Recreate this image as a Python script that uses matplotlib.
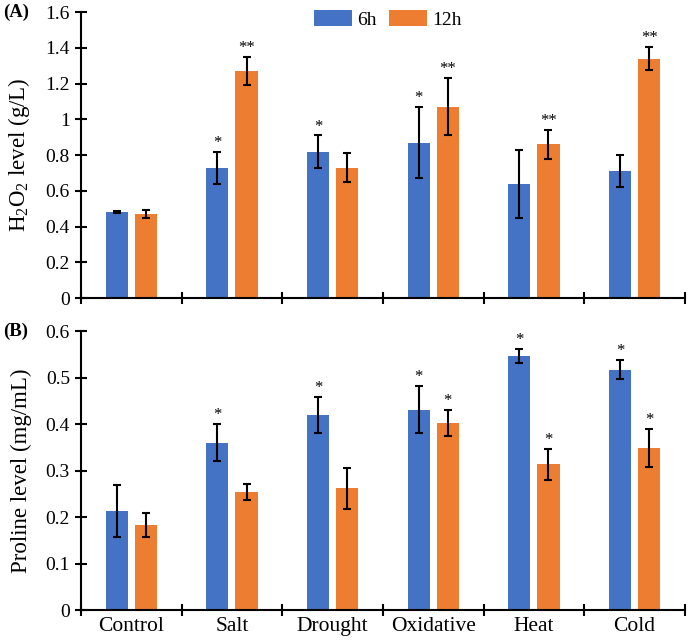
import numpy as np
import matplotlib
matplotlib.use("Agg")
import matplotlib.pyplot as plt
from matplotlib.ticker import FixedLocator

plt.rcParams['font.family'] = ['Liberation Serif', 'DejaVu Serif']
plt.rcParams['mathtext.fontset'] = 'custom'
plt.rcParams['mathtext.rm'] = 'Liberation Serif'
plt.rcParams['mathtext.it'] = 'Liberation Serif:italic'
plt.rcParams['mathtext.bf'] = 'Liberation Serif:bold'

categories = ["Control", "Salt", "Drought", "Oxidative", "Heat", "Cold"]
series = ["6h", "12h"]

h2o2_6h = [0.48, 0.73, 0.82, 0.87, 0.64, 0.71]
h2o2_6h_err = [0.005, 0.09, 0.09, 0.20, 0.19, 0.09]
h2o2_12h = [0.47, 1.27, 0.73, 1.07, 0.86, 1.34]
h2o2_12h_err = [0.02, 0.08, 0.08, 0.16, 0.08, 0.065]
h2o2_6h_sig = ["", "*", "*", "*", "", ""]
h2o2_12h_sig = ["", "**", "", "**", "**", "**"]

pro_6h = [0.212, 0.360, 0.419, 0.431, 0.546, 0.517]
pro_6h_err = [0.056, 0.040, 0.039, 0.050, 0.015, 0.021]
pro_12h = [0.183, 0.254, 0.262, 0.402, 0.313, 0.349]
pro_12h_err = [0.025, 0.018, 0.044, 0.028, 0.033, 0.041]
pro_6h_sig = ["", "*", "*", "*", "*", "*"]
pro_12h_sig = ["", "", "", "*", "*", "*"]

blue = "#4472C4"
orange = "#ED7D31"

fig = plt.figure(figsize=(6.96, 6.42), dpi=100)
ax1 = fig.add_axes([0.1164, 0.5358, 0.8676, 0.4452])
ax2 = fig.add_axes([0.1164, 0.0498, 0.8676, 0.4346])

x = np.arange(len(categories))
w = 0.22
off = 0.145


def draw(ax, v6, e6, s6, v12, e12, s12, ymax, step, star_pad):
    ekw = dict(elinewidth=1.5, capthick=1.5, ecolor='black')
    b1 = ax.bar(x - off, v6, w, color=blue, yerr=e6, capsize=2.6, error_kw=ekw, label=series[0])
    b2 = ax.bar(x + off, v12, w, color=orange, yerr=e12, capsize=2.6, error_kw=ekw, label=series[1])
    for xs, vals, errs, sig in [(x - off, v6, e6, s6), (x + off, v12, e12, s12)]:
        for xi, v, e, s in zip(xs, vals, errs, sig):
            if s:
                ax.text(xi, v + e + star_pad, s, ha='center', va='bottom', fontsize=12)
    ax.set_xlim(-0.5, len(categories) - 0.5)
    ax.set_ylim(0, ymax)
    ticks = np.round(np.arange(0, ymax + step / 2, step), 2)
    ax.set_yticks(ticks)
    ax.set_yticklabels([f"{t:g}" for t in ticks])
    ax.xaxis.set_major_locator(FixedLocator(np.arange(-0.5, len(categories), 1.0)))
    ax.xaxis.set_minor_locator(FixedLocator(x))
    ax.tick_params(axis='x', which='major', direction='inout', length=8, width=1.5, labelbottom=False)
    ax.tick_params(axis='x', which='minor', length=0, labelsize=15.5, pad=5)
    ax.tick_params(axis='y', direction='inout', length=8, width=1.5, labelsize=14, pad=4)
    for sp in ['top', 'right']:
        ax.spines[sp].set_visible(False)
    for sp in ['left', 'bottom']:
        ax.spines[sp].set_linewidth(1.5)
    return b1, b2


b1, b2 = draw(ax1, h2o2_6h, h2o2_6h_err, h2o2_6h_sig, h2o2_12h, h2o2_12h_err, h2o2_12h_sig, 1.6, 0.2, 0.005)
draw(ax2, pro_6h, pro_6h_err, pro_6h_sig, pro_12h, pro_12h_err, pro_12h_sig, 0.6, 0.1, 0.002)
ax2.set_xticks(x, categories, minor=True)

ax1.set_ylabel("H$_2$O$_2$ level (g/L)", fontsize=16.5, labelpad=10)
ax2.set_ylabel("Proline level (mg/mL)", fontsize=16.5, labelpad=10)

fig.text(0.004, 0.981, "(A)", fontsize=13.5, fontweight='bold', va='center')
fig.text(0.004, 0.484, "(B)", fontsize=13.5, fontweight='bold', va='center')

fig.legend([b1, b2], series, loc='center', bbox_to_anchor=(0.557, 0.970), ncol=2, frameon=False,
           fontsize=14, handlelength=2.0, handleheight=0.95, handletextpad=0.25, columnspacing=0.6)

fig.savefig("out.png", dpi=100)
